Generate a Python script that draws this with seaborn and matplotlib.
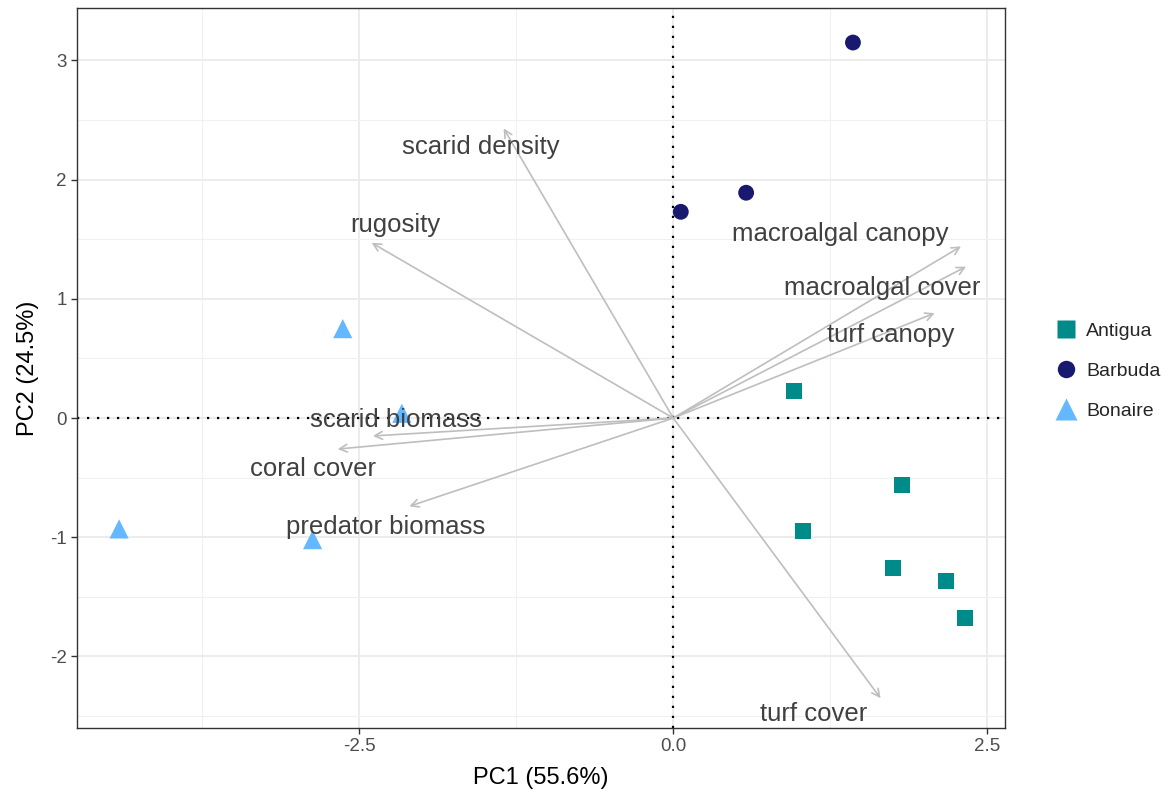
import numpy as np
import pandas as pd
import matplotlib
matplotlib.use("Agg")
import matplotlib.pyplot as plt
from matplotlib.ticker import FixedLocator
import seaborn as sns

# site scores
site = ["Antigua"] * 6 + ["Barbuda"] * 3 + ["Bonaire"] * 4
pc1 = [0.96, 1.82, 1.03, 1.75, 2.17, 2.32, 1.43, 0.58, 0.06, -2.63, -2.16, -4.41, -2.87]
pc2 = [0.23, -0.56, -0.95, -1.26, -1.37, -1.68, 3.15, 1.89, 1.73, 0.75, 0.04, -0.93, -1.02]

# variable loadings (arrow tips) and label positions
variables = ["scarid density", "rugosity", "macroalgal canopy", "macroalgal cover",
             "turf canopy", "scarid biomass", "coral cover", "predator biomass", "turf cover"]
load_x = [-1.35, -2.40, 2.29, 2.33, 2.08, -2.39, -2.67, -2.10, 1.65]
load_y = [2.43, 1.47, 1.44, 1.27, 0.88, -0.15, -0.26, -0.74, -2.35]
label_x = [-1.53, -2.21, 1.33, 1.66, 1.73, -2.21, -2.87, -2.29, 1.12]
label_y = [2.27, 1.62, 1.54, 1.09, 0.70, -0.02, -0.43, -0.91, -2.48]

df = pd.DataFrame({"PC1": pc1, "PC2": pc2, "site": site})

sns.set_style("white")
plt.rcParams["font.family"] = ["Liberation Sans", "DejaVu Sans"]

fig = plt.figure(figsize=(11.72, 7.96), dpi=100)
ax = fig.add_axes([0.0657, 0.0854, 0.7918, 0.9046])

# grid like theme_bw
for v in [-3.75, -1.25, 1.25]:
    ax.axvline(v, color="#F0F0F0", lw=0.8, zorder=0)
for v in [-2.5, 0, 2.5]:
    ax.axvline(v, color="#EBEBEB", lw=1.3, zorder=0)
for v in [-2.5, -1.5, -0.5, 0.5, 1.5, 2.5]:
    ax.axhline(v, color="#F0F0F0", lw=0.8, zorder=0)
for v in [-2, -1, 0, 1, 2, 3]:
    ax.axhline(v, color="#EBEBEB", lw=1.3, zorder=0)

ax.axhline(0, color="black", ls=(0, (1, 3.5)), lw=1.6, zorder=1)
ax.axvline(0, color="black", ls=(0, (1, 3.5)), lw=1.6, zorder=1)

for name, lx, ly, tx, ty in zip(variables, load_x, load_y, label_x, label_y):
    ax.annotate("", xy=(lx, ly), xytext=(0, 0),
                arrowprops=dict(arrowstyle="->,head_length=0.55,head_width=0.28",
                                color="#BEBEBE", lw=1.2, shrinkA=0, shrinkB=0),
                zorder=2)
    ax.text(tx, ty, name, ha="center", va="center", fontsize=18.5,
            color="#404040", zorder=4)

palette = {"Antigua": "#008B8B", "Barbuda": "#191970", "Bonaire": "#63B8FF"}
markers = {"Antigua": "s", "Barbuda": "o", "Bonaire": "^"}
sizes = {"Antigua": 130, "Barbuda": 130, "Bonaire": 190}
sns.scatterplot(data=df, x="PC1", y="PC2", hue="site", style="site", size="site",
                palette=palette, markers=markers, sizes=sizes,
                edgecolor="none", ax=ax, zorder=3)

ax.set_xlim(-4.745, 2.64)
ax.set_ylim(-2.6, 3.44)
ax.xaxis.set_major_locator(FixedLocator([-2.5, 0, 2.5]))
ax.set_xticklabels(["-2.5", "0.0", "2.5"])
ax.yaxis.set_major_locator(FixedLocator([-2, -1, 0, 1, 2, 3]))
ax.set_yticklabels(["-2", "-1", "0", "1", "2", "3"])
ax.tick_params(axis="both", length=4, width=1, color="#333333",
               labelsize=13.5, labelcolor="#4D4D4D", direction="out",
               bottom=True, left=True)
for s in ax.spines.values():
    s.set_color("#333333")
    s.set_linewidth(1.0)

ax.set_xlabel("PC1 (55.6%)", fontsize=17, color="black", labelpad=8)
ax.set_ylabel("PC2 (24.5%)", fontsize=17, color="black", labelpad=8)

handles, labels = ax.get_legend_handles_labels()
ax.legend(handles, labels, loc="center left", bbox_to_anchor=(0.8847, 0.534),
          bbox_transform=fig.transFigure, frameon=False, fontsize=14,
          handlelength=1.2, handletextpad=0.45, labelspacing=1.16, markerscale=1.1)

fig.savefig("out.png", dpi=100)
